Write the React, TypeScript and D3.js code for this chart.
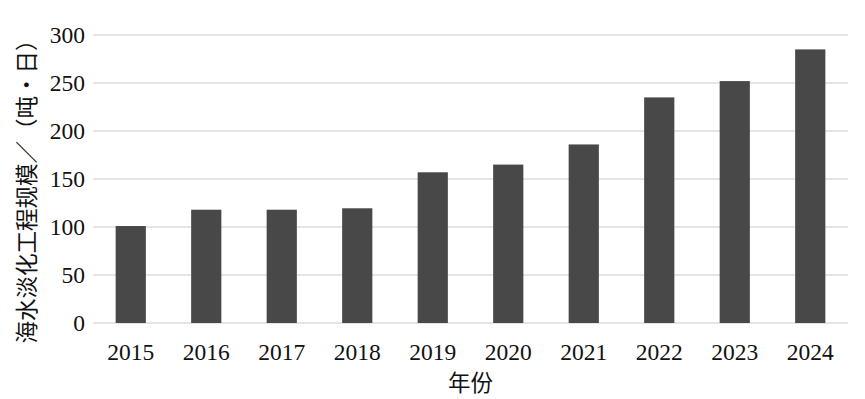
import * as d3 from 'd3';
import { useEffect, useRef } from 'react';

const years = ['2015', '2016', '2017', '2018', '2019', '2020', '2021', '2022', '2023', '2024'];
const scale = [101, 118, 118, 119.5, 157, 165, 186, 235, 252, 285];
const yTicks = [0, 50, 100, 150, 200, 250, 300];

const W = 865;
const H = 399;

export default function App() {
  const ref = useRef<SVGSVGElement>(null);

  useEffect(() => {
    const svg = d3.select(ref.current);
    svg.selectAll('*').remove();

    const margin = { top: 35, right: 17, bottom: 76, left: 93 };
    const innerW = W - margin.left - margin.right;
    const innerH = H - margin.top - margin.bottom;

    const x = d3.scaleBand()
      .domain(years)
      .range([0, innerW])
      .paddingInner(0.6)
      .paddingOuter(0.3);

    const y = d3.scaleLinear().domain([0, 300]).range([innerH, 0]);

    svg.append('rect').attr('width', W).attr('height', H).attr('fill', '#fff');

    const g = svg.append('g').attr('transform', `translate(${margin.left},${margin.top})`);

    // gridlines
    g.selectAll('line.grid')
      .data(yTicks)
      .enter()
      .append('line')
      .attr('class', 'grid')
      .attr('x1', 0)
      .attr('x2', innerW)
      .attr('y1', d => y(d))
      .attr('y2', d => y(d))
      .attr('stroke', '#dcdcdc')
      .attr('stroke-width', 1.3);

    // y tick labels
    g.selectAll('text.ytick')
      .data(yTicks)
      .enter()
      .append('text')
      .attr('class', 'ytick')
      .attr('x', -8)
      .attr('y', d => y(d))
      .attr('dy', '0.35em')
      .attr('text-anchor', 'end')
      .attr('font-family', '"Liberation Serif", "DejaVu Serif", serif')
      .attr('font-size', 23.5)
      .attr('fill', '#111')
      .text(d => d);

    // bars
    g.selectAll('rect.bar')
      .data(years.map((yr, i) => ({ yr, v: scale[i] })))
      .enter()
      .append('rect')
      .attr('class', 'bar')
      .attr('x', d => x(d.yr)!)
      .attr('y', d => y(d.v))
      .attr('width', x.bandwidth())
      .attr('height', d => innerH - y(d.v))
      .attr('fill', '#484848');

    // x tick labels
    g.selectAll('text.xtick')
      .data(years)
      .enter()
      .append('text')
      .attr('class', 'xtick')
      .attr('x', d => x(d)! + x.bandwidth() / 2)
      .attr('y', innerH + 37)
      .attr('text-anchor', 'middle')
      .attr('font-family', '"Liberation Serif", "DejaVu Serif", serif')
      .attr('font-size', 23.5)
      .attr('fill', '#111')
      .text(d => d);

    // axis titles
    svg.append('text')
      .attr('x', margin.left + innerW / 2)
      .attr('y', 391)
      .attr('text-anchor', 'middle')
      .attr('font-family', '"Noto Sans CJK SC", sans-serif')
      .attr('font-size', 22.5)
      .attr('fill', '#111')
      .text('年份');

    svg.append('text')
      .attr('transform', 'translate(35,186) rotate(-90)')
      .attr('text-anchor', 'middle')
      .attr('font-family', '"Noto Sans CJK SC", sans-serif')
      .attr('font-size', 22.5)
      .attr('fill', '#111')
      .text('海水淡化工程规模／（吨·日）');

    return () => {
      svg.selectAll('*').remove();
    };
  }, []);

  return (
    <svg
      ref={ref}
      width={W}
      height={H}
      style={{ position: 'absolute', left: 0, top: 0, display: 'block' }}
    />
  );
}
